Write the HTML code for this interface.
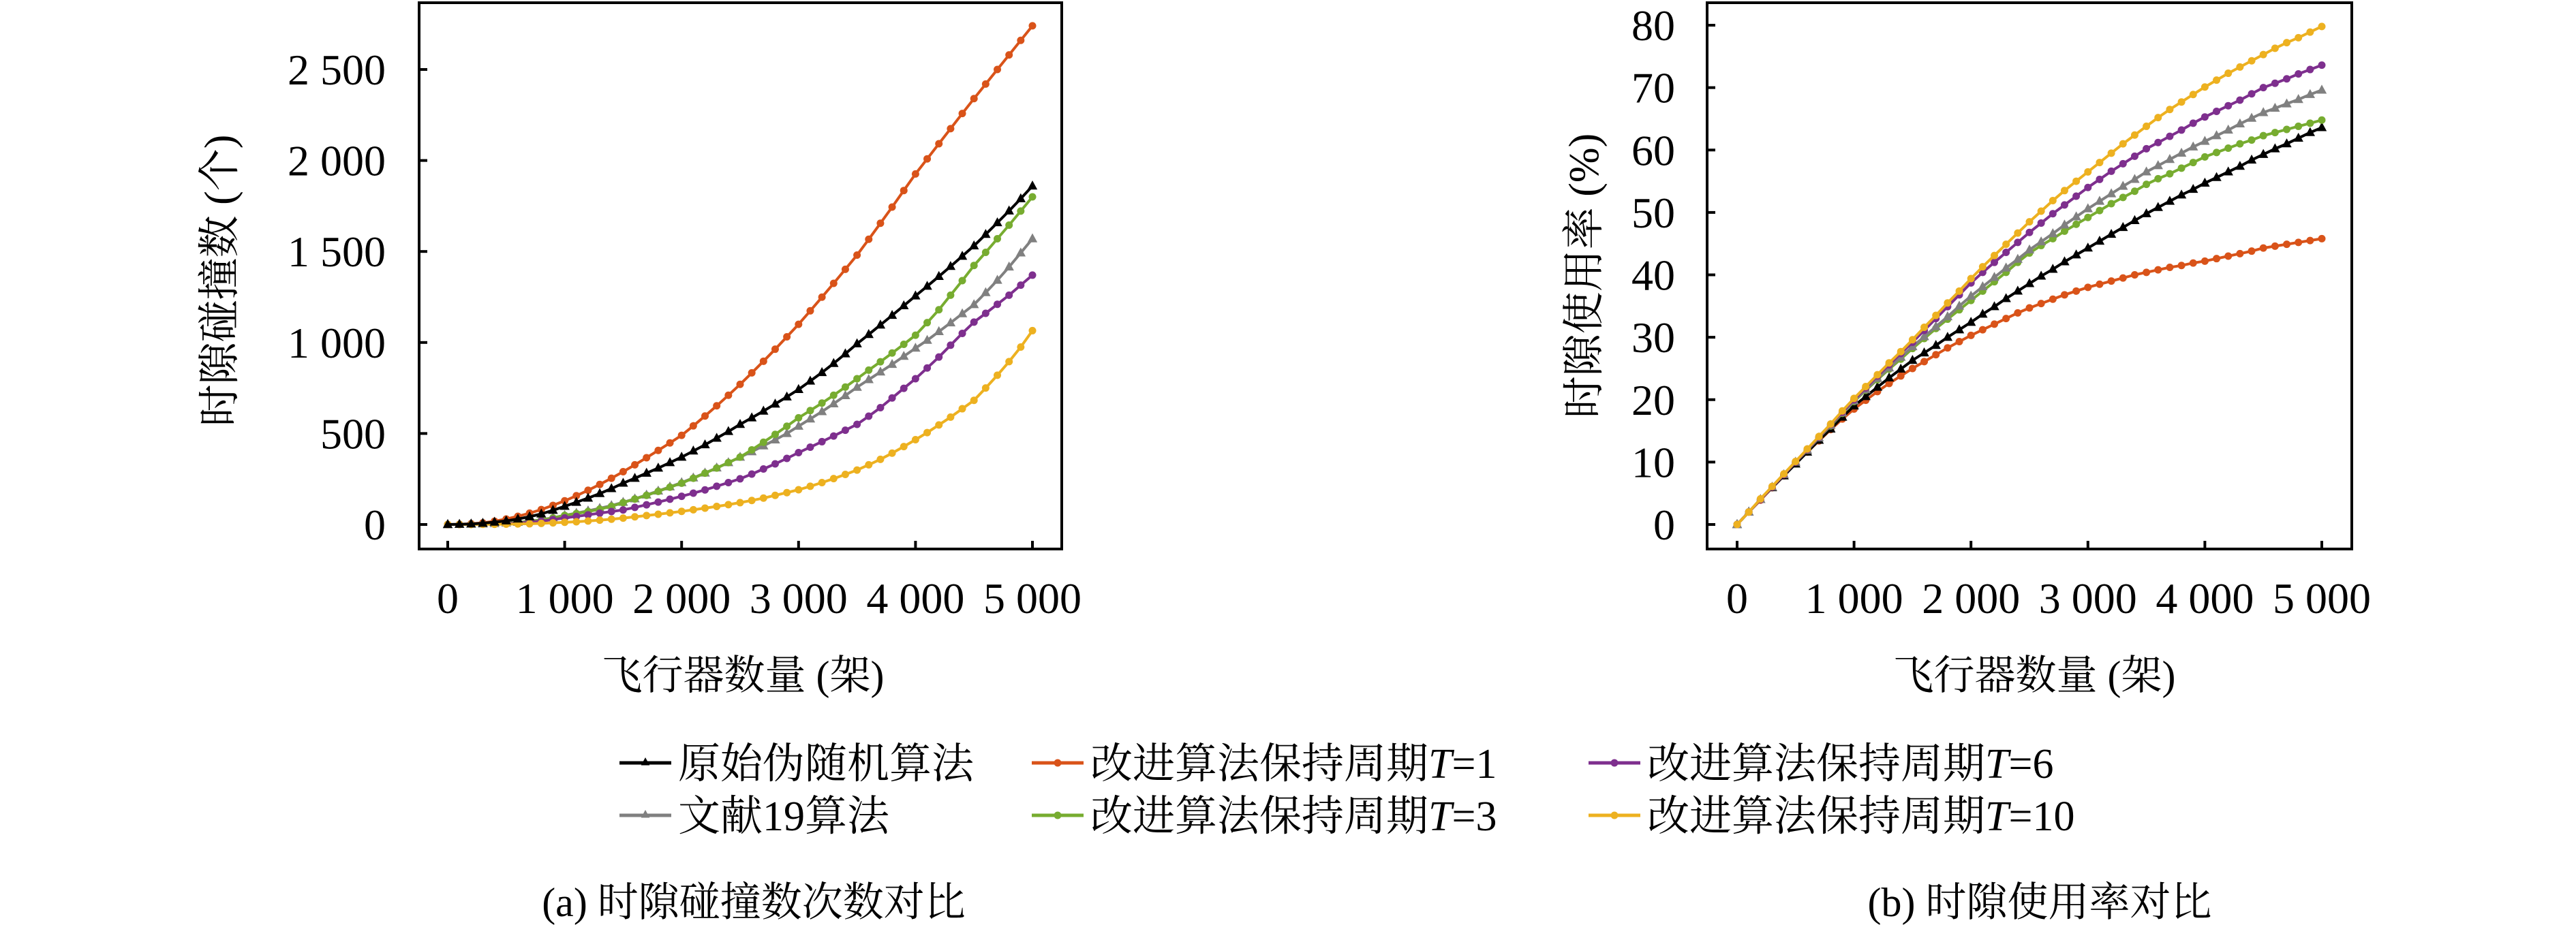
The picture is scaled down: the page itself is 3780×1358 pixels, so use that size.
<!DOCTYPE html>
<html><head><meta charset="utf-8">
<style>
html,body{margin:0;padding:0;background:#fff;}
#root{position:relative;width:3780px;height:1358px;overflow:hidden;background:#fff;}
svg text{font-family:"Liberation Serif","Noto Serif CJK SC",serif;}
</style></head>
<body>
<div id="root">
<svg id="fig" width="3780" height="1358" viewBox="0 0 3780 1358" xmlns="http://www.w3.org/2000/svg"></svg>
</div>
<script>
// ---------- data ----------
const xValues = [0,100,200,300,400,500,600,700,800,900,1000,1100,1200,1300,1400,1500,1600,1700,1800,1900,2000,2100,2200,2300,2400,2500,2600,2700,2800,2900,3000,3100,3200,3300,3400,3500,3600,3700,3800,3900,4000,4100,4200,4300,4400,4500,4600,4700,4800,4900,5000];
const xTicks = [0,1000,2000,3000,4000,5000];
const xTickLabels = ["0","1 000","2 000","3 000","4 000","5 000"];
const yTicksA = [0,500,1000,1500,2000,2500];
const yTickLabelsA = ["0","500","1 000","1 500","2 000","2 500"];
const yTicksB = [0,10,20,30,40,50,60,70,80];
const yTickLabelsB = ["0","10","20","30","40","50","60","70","80"];
const seriesNames = ["原始伪随机算法","文献19算法","改进算法保持周期T=1","改进算法保持周期T=3","改进算法保持周期T=6","改进算法保持周期T=10"];

// chart (a): collisions
const collOriginal = [0,1,3,7,13,20,30,43,58,78,100,122,145,170,197,227,254,282,310,340,370,404,438,474,511,550,586,623,662,701,742,788,835,885,938,993,1044,1096,1149,1202,1256,1309,1363,1418,1474,1531,1594,1658,1723,1790,1860];
const collRef19 = [0,1,2,3,5,8,12,18,26,37,50,62,75,89,104,122,141,162,184,207,230,256,283,311,340,370,400,432,465,500,540,580,620,663,708,754,796,838,880,924,969,1012,1060,1108,1158,1208,1274,1342,1415,1492,1570];
const collT1 = [0,1,4,9,18,30,45,62,82,105,130,158,188,220,254,290,328,367,407,448,490,542,596,652,710,770,833,897,963,1031,1100,1174,1249,1325,1402,1480,1567,1655,1744,1835,1926,2009,2092,2175,2258,2340,2420,2500,2580,2660,2740];
const collT3 = [0,0,1,2,4,7,11,16,24,36,50,60,71,84,100,120,140,160,182,205,227,254,282,310,340,370,410,452,495,540,586,626,667,710,755,801,848,894,942,990,1040,1109,1180,1260,1340,1423,1495,1570,1645,1722,1800];
const collT6 = [0,0,1,2,3,5,8,12,18,27,36,44,53,62,71,80,94,108,123,139,155,172,190,210,230,251,277,305,333,363,395,425,455,486,518,550,595,642,695,748,801,860,920,985,1050,1112,1160,1210,1260,1315,1370];
const collT10 = [0,0,0,1,1,2,3,4,6,9,12,15,19,24,29,35,42,49,56,64,72,81,90,99,109,120,132,145,160,175,191,210,230,252,275,299,328,358,392,428,466,505,547,590,636,682,750,820,895,975,1065];

// chart (b): utilization %
const utilOriginal = [0,2,4,5.9,7.8,9.7,11.6,13.5,15.3,17.2,19,20.5,22,23.5,24.9,26.3,27.5,28.7,30,31.2,32.4,33.7,34.9,36.2,37.4,38.6,39.8,40.9,42.1,43.2,44.3,45.4,46.5,47.6,48.7,49.8,50.8,51.8,52.8,53.7,54.7,55.6,56.5,57.4,58.4,59.3,60.2,61,61.9,62.8,63.6];
const utilRef19 = [0,2,4,6,8,10,11.9,13.9,15.9,17.9,19.8,21.6,23.4,25.1,26.8,28.5,30.1,31.7,33.3,35,36.6,38.1,39.6,41.1,42.5,44,45.3,46.6,48,49.3,50.6,51.8,53,54.2,55.3,56.5,57.5,58.5,59.5,60.5,61.4,62.3,63.2,64.2,65.1,66,66.7,67.4,68.1,68.9,69.6];
const utilT1 = [0,2,3.9,5.9,7.8,9.8,11.6,13.4,15.2,16.9,18.5,19.9,21.3,22.6,23.8,25,26.1,27.2,28.3,29.3,30.3,31.2,32.1,33,33.9,34.7,35.4,36.1,36.8,37.4,38,38.5,39,39.5,40,40.4,40.8,41.2,41.5,41.9,42.2,42.6,43,43.4,43.8,44.3,44.6,44.9,45.2,45.5,45.8];
const utilT3 = [0,2,4,6,8,10,11.9,13.9,15.8,17.8,19.7,21.5,23.2,24.9,26.5,28.2,29.8,31.4,32.9,34.4,35.9,37.4,38.9,40.4,42,43.5,44.7,45.8,47,48.1,49.2,50.3,51.4,52.4,53.4,54.5,55.4,56.2,57.1,58,58.9,59.6,60.3,61,61.6,62.3,62.8,63.3,63.8,64.3,64.8];
const utilT6 = [0,2,4,6,8,10,12,14,16,18,20,21.9,23.8,25.6,27.4,29.2,31.1,33,34.9,36.8,38.7,40.4,42,43.6,45.2,46.8,48.3,49.8,51.2,52.6,54,55.3,56.6,57.8,59,60.2,61.2,62.2,63.2,64.3,65.3,66.2,67.1,68,69,70,70.7,71.4,72.2,72.9,73.6];
const utilT10 = [0,2,4.1,6.1,8.1,10.1,12.1,14.1,16.1,18.2,20.2,22.1,24,25.9,27.7,29.6,31.6,33.5,35.5,37.4,39.4,41.3,43.1,44.9,46.7,48.5,50.2,51.9,53.5,55,56.5,58,59.5,61,62.4,63.8,65.2,66.5,67.7,68.9,70.1,71.2,72.3,73.3,74.3,75.3,76.3,77.2,78,78.9,79.8];

// ---------- drawing ----------
const NS = "http://www.w3.org/2000/svg";
const svg = document.getElementById("fig");
const COLORS = {black:"#000000",gray:"#808080",orange:"#D95319",green:"#77AC30",purple:"#7E2F8E",yellow:"#EDB120"};
function mk(tag, attrs, parent){
  const e = document.createElementNS(NS, tag);
  for (const k in attrs) e.setAttribute(k, attrs[k]);
  (parent||svg).appendChild(e);
  return e;
}
function tri(g, cx, cy, s, color){
  const p = mk("polygon",{points:`${cx},${cy-s} ${cx-s*0.9},${cy+s*0.65} ${cx+s*0.9},${cy+s*0.65}`,fill:color},g);
  return p;
}

function drawChart(cfg){
  const g = mk("g",{});
  
  
  const xS = v => cfg.x0 + (v - 0) / 5000 * (cfg.x1 - cfg.x0);
  const yS = v => cfg.y0 - v / cfg.yMax * (cfg.y0 - cfg.y1);
  // series
  cfg.series.forEach(s => {
    const sg = mk("g",{},g);
    
    
    const pts = s.data.map((v,i)=> xS(xValues[i]).toFixed(1)+","+yS(v).toFixed(1)).join(" ");
    const pl = mk("polyline",{points:pts,fill:"none",stroke:s.color,"stroke-width":4,"stroke-linejoin":"round"},sg);
    
    
    s.data.forEach((v,i)=>{
      let m;
      if (s.marker === "tri") m = tri(sg, xS(xValues[i]), yS(v), 8, s.color);
      else m = mk("circle",{cx:xS(xValues[i]),cy:yS(v),r:5.5,fill:s.color},sg);
      
      
    });
  });
  // box
  const box = mk("rect",{x:cfg.bx0,y:cfg.by0,width:cfg.bx1-cfg.bx0,height:cfg.by1-cfg.by0,fill:"none",stroke:"#000","stroke-width":4},g);
  
  
  // x ticks
  xTicks.forEach((t,i)=>{
    const x = xS(t);
    const tk = mk("line",{x1:x,x2:x,y1:cfg.by1,y2:cfg.by1-12,stroke:"#000","stroke-width":4},g);
    
    
    const tl = mk("text",{x:x,y:900,"font-size":64,"text-anchor":"middle"},g);
    tl.textContent = xTickLabels[i];
    
    
  });
  cfg.yTicks.forEach((t,i)=>{
    const y = yS(t);
    const tk = mk("line",{x1:cfg.bx0,x2:cfg.bx0+12,y1:y,y2:y,stroke:"#000","stroke-width":4},g);
    
    
    const tl = mk("text",{x:cfg.ylabX,y:y+22,"font-size":64,"text-anchor":"end"},g);
    tl.textContent = cfg.yLabels[i];
    
    
  });
  const xt = mk("text",{x:cfg.xTitleX,y:1012,"font-size":60,"text-anchor":"middle"},g);
  xt.textContent = "飞行器数量 (架)";
  
  
  const yt = mk("text",{x:0,y:0,"font-size":62,"text-anchor":"middle",transform:`translate(${cfg.yTitleX},${cfg.yTitleY}) rotate(-90)`},g);
  yt.textContent = cfg.yTitle;
  
  
  const cap = mk("text",{x:cfg.capX,y:1345,"font-size":60,"text-anchor":"middle"},g);
  cap.textContent = cfg.caption;
  
  
}

drawChart({
  name:"collision-chart", x0:657, x1:1515, y0:770, y1:102, yMax:2500,
  bx0:615, bx1:1558, by0:4, by1:806, ylabX:566,
  yTicks:yTicksA, yLabels:yTickLabelsA, yTitle:"时隙碰撞数 (个)", yTitleX:343, yTitleY:412,
  xTitleX:1090, capX:1106, caption:"(a) 时隙碰撞数次数对比",
  series:[
    {name:"series-t1",data:collT1,color:COLORS.orange,marker:"dot"},
    {name:"series-ref19",data:collRef19,color:COLORS.gray,marker:"tri"},
    {name:"series-t3",data:collT3,color:COLORS.green,marker:"dot"},
    {name:"series-t6",data:collT6,color:COLORS.purple,marker:"dot"},
    {name:"series-t10",data:collT10,color:COLORS.yellow,marker:"dot"},
    {name:"series-original",data:collOriginal,color:COLORS.black,marker:"tri"}
  ]
});
drawChart({
  name:"utilization-chart", x0:2549, x1:3407, y0:770, y1:37, yMax:80,
  bx0:2505, bx1:3451, by0:4, by1:806, ylabX:2458,
  yTicks:yTicksB, yLabels:yTickLabelsB, yTitle:"时隙使用率 (%)", yTitleX:2345, yTitleY:405,
  xTitleX:2985, capX:2993, caption:"(b) 时隙使用率对比",
  series:[
    {name:"series-t1",data:utilT1,color:COLORS.orange,marker:"dot"},
    {name:"series-original",data:utilOriginal,color:COLORS.black,marker:"tri"},
    {name:"series-t3",data:utilT3,color:COLORS.green,marker:"dot"},
    {name:"series-ref19",data:utilRef19,color:COLORS.gray,marker:"tri"},
    {name:"series-t6",data:utilT6,color:COLORS.purple,marker:"dot"},
    {name:"series-t10",data:utilT10,color:COLORS.yellow,marker:"dot"}
  ]
});

// legend
const legend = mk("g",{});


const legendItems = [
  {label:seriesNames[0],color:COLORS.black,marker:"tri",x:909,y:1120},
  {label:seriesNames[1],color:COLORS.gray,marker:"tri",x:909,y:1197},
  {label:seriesNames[2],color:COLORS.orange,marker:"dot",x:1514,y:1120},
  {label:seriesNames[3],color:COLORS.green,marker:"dot",x:1514,y:1197},
  {label:seriesNames[4],color:COLORS.purple,marker:"dot",x:2331,y:1120},
  {label:seriesNames[5],color:COLORS.yellow,marker:"dot",x:2331,y:1197}
];
legendItems.forEach(it=>{
  const g = mk("g",{},legend);
  
  
  mk("line",{x1:it.x,x2:it.x+76,y1:it.y,y2:it.y,stroke:it.color,"stroke-width":5},g);
  if (it.marker==="tri") tri(g,it.x+38,it.y-1,7,it.color);
  else mk("circle",{cx:it.x+38,cy:it.y,r:5.5,fill:it.color},g);
  const t = mk("text",{x:it.x+86,y:it.y+22,"font-size":62},g);
  const m = it.label.match(/^(.*)T=(\d+)$/);
  if (m){
    t.appendChild(document.createTextNode(m[1]));
    const ts = mk("tspan",{"font-style":"italic"},t); ts.textContent="T";
    const ts2 = mk("tspan",{},t); ts2.textContent="="+m[2];
  } else t.textContent = it.label;
  
  
});
</script>
</body></html>
